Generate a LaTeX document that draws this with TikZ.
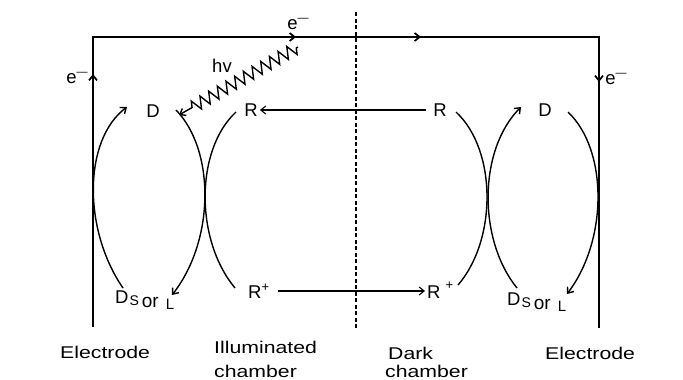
\documentclass[tikz,border=0pt]{standalone}
\usepackage{fontspec}
\setmainfont{Liberation Sans}
\newfontfamily\widefont{Liberation Sans}[FakeStretch=1.25]
\usetikzlibrary{arrows.meta,decorations.pathmorphing}
\newcommand\eminus{e\raisebox{8pt}{\fontsize{11}{11}\selectfont —}}
\newcommand\dsorl{D\hspace{1pt}\raisebox{-2pt}{\fontsize{14}{14}\selectfont S}\hspace{3pt}\raisebox{-4pt}{\fontsize{19}{19}\selectfont or}\hspace{7pt}\raisebox{-6pt}{\fontsize{15}{15}\selectfont L}}
\begin{document}
\begin{tikzpicture}[x=1pt,y=-1pt,
  wire/.style={line width=1.7pt},
  curve/.style={line width=1.4pt},
  link/.style={line width=1.1pt},
  tipb/.style={-{Straight Barb[length=5pt,width=8pt]}},
  lbl/.style={inner sep=0pt,font=\fontsize{18.5}{20}\selectfont},
  wlbl/.style={inner sep=0pt,font=\fontsize{17}{20}\selectfont\widefont},
]
\fill[white] (0,0) rectangle (683,380);
\path[use as bounding box] (0,0) rectangle (683,380);

% external wire
\coordinate (LB) at (93,327);
\coordinate (LT) at (93,37);
\coordinate (RT) at (599,37);
\coordinate (RB) at (599,328);
\draw[wire] (LB) -- (LT) -- (RT) -- (RB);
\coordinate (a1s) at (93,84);  \coordinate (a1e) at (93,74);
\coordinate (a2s) at (284,37); \coordinate (a2e) at (296,37);
\coordinate (a3s) at (409,37); \coordinate (a3e) at (421,37);
\coordinate (a4s) at (599,71); \coordinate (a4e) at (599,82);
\draw[wire,tipb] (a1s) -- (a1e);
\draw[wire,tipb] (a2s) -- (a2e);
\draw[wire,tipb] (a3s) -- (a3e);
\draw[wire,tipb] (a4s) -- (a4e);

% membrane
\coordinate (d1) at (356,12);
\coordinate (d2) at (356,330);
\draw[line width=1.5pt, dash pattern=on 4pt off 2.5pt] (d1) -- (d2);

% electron labels
\node[lbl] (eL) at (77,78) {\eminus};
\node[lbl] (eT) at (298,24) {\eminus};
\node[lbl] (eR) at (616,79) {\eminus};

% species
\node[lbl] (DL) at (153,111) {D};
\node[lbl] (RL) at (251,110) {R};
\node[lbl] (RR) at (440,110) {R};
\node[lbl] (DR) at (545,110) {D};
\node[lbl,anchor=base west] (RpL) at (248,298) {R\textsuperscript{+}};
\node[lbl,anchor=base west] (RpR) at (427,298) {R\hspace{5pt}\raisebox{9pt}{\fontsize{13}{13}\selectfont +}};
\node[lbl,anchor=base west] (DsL) at (115,303) {\dsorl};
\node[lbl,anchor=base west] (DsR) at (507,305) {\dsorl};

% R <- R and R+ -> R+
\draw[link,tipb] ([xshift=-7pt]RR.west) -- ([xshift=2pt]RL.east);
\draw[link,tipb] ([shift={(8pt,7pt)}]RpL.base east) -- ([shift={(-2pt,7pt)}]RpR.base west);

% left cell reaction curves
\coordinate (c1s) at (123,288); \coordinate (c1e) at (127,107);
\coordinate (c2s) at (176,110); \coordinate (c2e) at (172,295);
\coordinate (c3s) at (236,112); \coordinate (c3e) at (235,288);
\draw[curve,tipb] (c1s) .. controls (83,230) and (83,140) .. (c1e);
\draw[curve,tipb] (c2s) .. controls (215,150) and (215,240) .. (c2e);
\draw[curve] (c3s) .. controls (195,150) and (195,240) .. (c3e);

% right cell reaction curves
\coordinate (c4s) at (456,112); \coordinate (c4e) at (458,285);
\coordinate (c5s) at (517,288); \coordinate (c5e) at (521,107);
\coordinate (c6s) at (568,112); \coordinate (c6e) at (567,294);
\draw[curve] (c4s) .. controls (497,150) and (497,240) .. (c4e);
\draw[curve,tipb] (c5s) .. controls (478,240) and (478,150) .. (c5e);
\draw[curve,tipb] (c6s) .. controls (608,150) and (608,240) .. (c6e);

% light
\coordinate (hvs) at (298,47);
\coordinate (hve) at (179,115);
\draw[curve,tipb,decorate,decoration={zigzag,amplitude=6pt,segment length=10pt,pre length=2pt,post length=12pt}] (hvs) -- (hve);
\node[lbl] (hv) at (222,66) {hv};

% bottom labels
\node[wlbl,anchor=base west] (el1) at (60,358) {Electrode};
\node[wlbl,anchor=base west] (el2) at (545,359) {Electrode};
\node[wlbl,anchor=base west] (il1) at (214,353) {Illuminated};
\node[wlbl,anchor=base west] (il2) at (214,377) {chamber};
\node[wlbl,anchor=base west] (dk1) at (388,359) {Dark};
\node[wlbl,anchor=base west] (dk2) at (385,377) {chamber};
\end{tikzpicture}
\end{document}
